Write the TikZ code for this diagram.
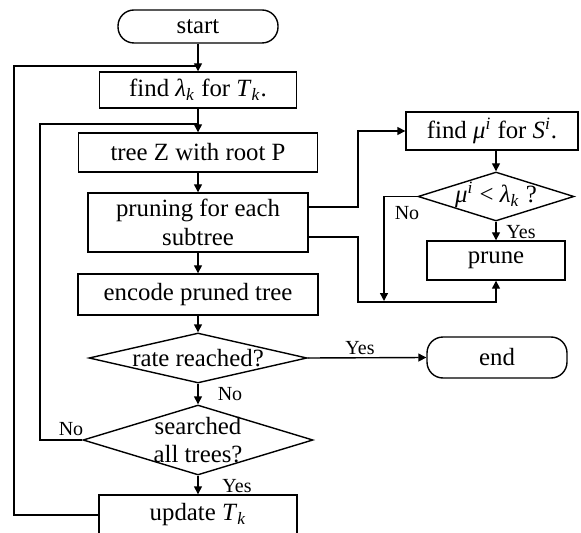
\documentclass[tikz,border=0pt]{standalone}
\usepackage{fontspec}
\setmainfont{Liberation Serif}
\usetikzlibrary{arrows.meta,shapes.geometric}
\newcommand{\sbk}{\textsubscript{\textit{k}}}
\newcommand{\spi}{\textsuperscript{\textit{i}}}
\begin{document}
\begin{tikzpicture}[x=0.5pt,y=-0.5pt,
  line width=0.7pt,
  box/.style={draw, inner sep=0pt, font=\fontsize{12.4}{14.5}\selectfont, align=center},
  term/.style={box, rounded corners=8pt},
  dia/.style={draw, shape=diamond, inner sep=0pt},
  txt/.style={inner sep=0pt, font=\fontsize{12.4}{14}\selectfont, align=center},
  lbl/.style={inner sep=0pt, font=\fontsize{10}{12}\selectfont},
  arr/.style={-{Triangle[length=4pt,width=4pt]}}
]
\useasboundingbox (0,0) rectangle (581,533);

% main column
\node[term, minimum width=80pt, minimum height=16.5pt] (start) at (198,26.5) {start};
\node[box, minimum width=98.5pt, minimum height=18pt] (find) at (198,90) {find \textit{λ}\sbk{} for \textit{T}\sbk.};
\node[box, minimum width=119.5pt, minimum height=19.5pt] (treeZ) at (198,152.5) {tree Z with root P};
\node[box, minimum width=110pt, minimum height=29.5pt] (pruning) at (198,222.5) {pruning for each\\subtree};
\node[box, minimum width=120pt, minimum height=20.5pt] (encode) at (198,294.5) {encode pruned tree};
\node[dia, minimum width=109pt, minimum height=25pt] (rate) at (198,358) {};
\node[txt] (ratet) at (198,358) {rate reached?};
\node[dia, minimum width=115pt, minimum height=35pt] (searched) at (198,440) {};
\node[txt] (searchedt) at (198,440) {searched\\all trees?};
\node[box, minimum width=99pt, minimum height=20pt] (update) at (198,515) {update \textit{T}\sbk};
\node[term, minimum width=70pt, minimum height=20.5pt] (end) at (497,357.5) {end};

% right column
\node[box, minimum width=86pt, minimum height=19pt] (findmu) at (492,131) {find \textit{μ}\spi{} for \textit{S}\spi.};
\node[dia, minimum width=78pt, minimum height=24.5pt] (mudia) at (496,196.5) {};
\node[txt] (mudiat) at (496,195) {\textit{μ}\spi{} \textless{} \textit{λ}\sbk{} ?};
\node[box, minimum width=69pt, minimum height=19.5pt] (prune) at (496,260.5) {prune};

% coordinates
\coordinate (o1) at (14,515);
\coordinate (o2) at (198,66);
\coordinate (i1) at (40,440);
\coordinate (i2) at (198,124);
\coordinate (pa) at (308,207);
\coordinate (pac) at (358,207);
\coordinate (pb) at (308,237);
\coordinate (pbc) at (358,302);
\coordinate (nb) at (384,301);

% main connectors
\draw[arr] (start) -- (find);
\draw[arr] (find) -- (treeZ);
\draw[arr] (treeZ) -- (pruning);
\draw[arr] (pruning) -- (encode);
\draw[arr] (encode) -- (rate);
\draw[arr] (rate) -- (searched);
\draw[arr] (rate.east) -- (end.west);
\draw[arr] (searched) -- (update);
\draw (update.west) -| (o1) |- (o2);
\draw (searched.west) -- (i1) |- (i2);

% right connectors
\draw[arr] (pa) -- (pac) |- (findmu.west);
\draw[arr] (pb) -| (pbc) -| (prune.south);
\draw[arr] (findmu.south -| mudia.north) -- (mudia.north);
\draw[arr] (mudia.south) -- (prune.north);
\draw[arr] (mudia.west) -| (nb);

% labels
\node[lbl] (lyes1) at (360,348) {Yes};
\node[lbl] (lno1) at (230,394) {No};
\node[lbl] (lno2) at (71,429) {No};
\node[lbl] (lyes2) at (237,486) {Yes};
\node[lbl] (lno3) at (407,213) {No};
\node[lbl] (lyes3) at (521,232) {Yes};
\end{tikzpicture}
\end{document}
